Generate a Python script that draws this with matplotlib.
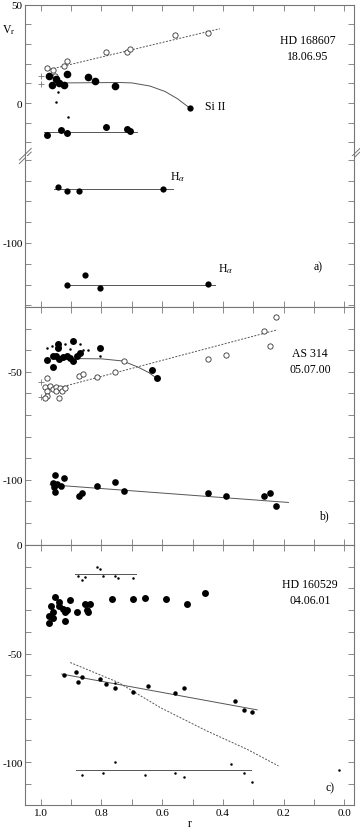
import matplotlib
matplotlib.use("Agg")
import matplotlib.pyplot as plt
from matplotlib.ticker import MultipleLocator, FuncFormatter

plt.rcParams["font.family"] = ["Liberation Serif", "DejaVu Serif"]
plt.rcParams["mathtext.fontset"] = "stix"
plt.rcParams["axes.unicode_minus"] = False

# ---- panel a) HD 168607 ----
a_open_r = [0.980, 0.960, 0.953, 0.922, 0.912, 0.785, 0.716, 0.706, 0.559, 0.449]
a_open_v = [17.7, 16.7, 13.8, 18.8, 21.4, 25.8, 25.8, 27.3, 34.3, 35.7]
a_open_fit_r = [0.98, 0.41]
a_open_fit_v = [16.7, 37.7]
a_cross_r = [1.0, 1.0]
a_cross_v = [13.5, 9.4]
a_si_r = [0.972, 0.962, 0.951, 0.940, 0.922, 0.912, 0.843, 0.823, 0.754]
a_si_v = [13.6, 9.2, 12.1, 10.3, 9.2, 14.6, 13.3, 11.3, 8.7]
a_si_end_r = [0.508]
a_si_end_v = [-2.7]
a_si_fit_r = [0.92, 0.74, 0.70, 0.64, 0.59, 0.55, 0.508]
a_si_fit_v = [10.2, 10.4, 10.2, 8.6, 5.8, 2.2, -2.7]
a_dot_r = [0.942, 0.951, 0.911]
a_dot_v = [5.7, 0.7, -7.2]
a_low_r = [0.980, 0.932, 0.912, 0.785, 0.716, 0.706]
a_low_v = [-16.2, -13.6, -15.2, -12.1, -13.1, -14.1]
a_low_fit_r = [0.99, 0.684]
a_low_fit_v = [-14.8, -14.8]
a_ha1_r = [0.942, 0.912, 0.873, 0.597]
a_ha1_v = [-73.3, -75.2, -75.2, -74.3]
a_ha1_fit_r = [0.958, 0.563]
a_ha1_fit_v = [-74.1, -74.1]
a_ha2_r = [0.912, 0.853, 0.805, 0.450]
a_ha2_v = [-120.2, -115.5, -121.8, -119.8]
a_ha2_fit_r = [0.915, 0.426]
a_ha2_fit_v = [-120.2, -120.2]

# ---- panel b) AS 314 ----
b_big_r = [0.942, 0.942, 0.893, 0.805, 0.978, 0.961, 0.950, 0.939, 0.928, 0.912,
           0.903, 0.893, 0.881, 0.871, 0.961, 0.634, 0.617]
b_big_v = [-37.2, -39.0, -35.9, -39.0, -44.6, -42.6, -42.6, -44.1, -43.1, -42.6,
           -43.7, -44.9, -42.6, -41.5, -48.0, -49.1, -53.1]
b_big_fit_r = [0.88, 0.80, 0.73, 0.68, 0.645, 0.617]
b_big_fit_v = [-43.9, -44.0, -45.0, -47.8, -50.3, -53.1]
b_dot_r = [0.980, 0.964, 0.950, 0.936, 0.919, 0.903, 0.871, 0.860, 0.843, 0.805]
b_dot_v = [-39.2, -38.2, -39.2, -38.6, -37.3, -39.5, -37.2, -40.0, -40.0, -42.6]
b_open_r = [0.980, 0.986, 0.980, 0.978, 0.986, 0.969, 0.961, 0.950, 0.951, 0.936,
            0.931, 0.939, 0.920, 0.873, 0.862, 0.814, 0.755, 0.726, 0.450, 0.390,
            0.264, 0.244, 0.224]
b_open_v = [-52.9, -57.2, -58.8, -61.1, -62.2, -56.5, -58.0, -56.9, -58.8, -57.5,
            -58.8, -62.2, -57.5, -52.0, -51.1, -52.6, -50.3, -44.9, -44.1, -42.1,
            -31.0, -38.0, -24.5]
b_open_fit_r = [0.925, 0.224]
b_open_fit_v = [-56.8, -30.7]
b_cross_r = [1.0, 1.0]
b_cross_v = [-54.9, -61.9]
b_low_r = [0.953, 0.961, 0.947, 0.934, 0.958, 0.953, 0.922, 0.865, 0.873, 0.814,
           0.755, 0.726, 0.450, 0.390, 0.264, 0.244, 0.224]
b_low_v = [-97.7, -101.5, -102.0, -103.1, -103.5, -105.6, -99.4, -106.2, -107.7, -102.8,
           -101.2, -105.4, -106.2, -107.4, -107.4, -106.2, -112.3]
b_low_fit_r = [0.969, 0.184]
b_low_fit_v = [-102.3, -110.5]

# ---- panel c) HD 160529 ----
c_big_r = [0.972, 0.972, 0.961, 0.961, 0.967, 0.952, 0.941, 0.940, 0.926, 0.921,
           0.912, 0.921, 0.903, 0.881, 0.853, 0.838, 0.849, 0.843, 0.765, 0.696,
           0.656, 0.588, 0.519, 0.460]
c_big_v = [-35.9, -32.9, -33.6, -31.0, -28.0, -23.8, -26.1, -28.0, -29.5, -31.0,
           -30.0, -34.9, -25.2, -31.0, -27.0, -27.0, -30.0, -31.0, -25.0, -25.0,
           -24.6, -25.0, -27.0, -22.1]
c_top_r = [0.878, 0.863, 0.853, 0.814, 0.805, 0.794, 0.755, 0.744, 0.696]
c_top_v = [-14.1, -16.0, -14.6, -10.0, -11.1, -14.1, -14.1, -15.2, -15.2]
c_top_fit_r = [0.887, 0.686]
c_top_fit_v = [-13.4, -13.4]
c_mid_r = [0.922, 0.883, 0.878, 0.863, 0.805, 0.785, 0.755, 0.697, 0.647,
           0.559, 0.529, 0.360, 0.331, 0.303]
c_mid_v = [-59.9, -58.4, -63.0, -60.8, -61.9, -63.9, -65.9, -67.9, -64.8,
           -68.3, -65.9, -71.9, -75.9, -76.8]
c_mid_small_r = [0.755]
c_mid_small_v = [-63.4]
c_mid_fit_r = [0.931, 0.287]
c_mid_fit_v = [-59.4, -75.9]
c_dash_r = [0.903, 0.744, 0.607, 0.453, 0.321, 0.217]
c_dash_v = [-54.1, -63.3, -74.8, -85.6, -94.0, -101.7]
c_bot_r = [0.863, 0.795, 0.755, 0.657, 0.559, 0.529, 0.372, 0.331, 0.303, 0.016]
c_bot_v = [-106.0, -104.8, -99.8, -106.0, -104.8, -106.9, -100.9, -104.8, -108.9, -103.7]
c_bot_fit_r = [0.884, 0.309]
c_bot_fit_v = [-103.5, -103.5]

W, H = 360, 829
fig = plt.figure(figsize=(W / 100, H / 100), dpi=100)

LEFT, RIGHT = 25.3, 354
XLIM = (1.051, -0.032)
FRAME = "#777777"
LINE = "#555555"


def make_ax(top_px, bot_px, ylim):
    ax = fig.add_axes([LEFT / W, 1 - bot_px / H, (RIGHT - LEFT) / W, (bot_px - top_px) / H])
    ax.set_xlim(*XLIM)
    ax.set_ylim(*ylim)
    ax.xaxis.set_major_locator(MultipleLocator(0.1))
    ax.yaxis.set_major_locator(MultipleLocator(10))
    ax.yaxis.set_major_formatter(FuncFormatter(lambda v, p: "%d" % v if round(v) % 50 == 0 else ""))
    ax.tick_params(direction="in", length=4, width=0.6, color=FRAME, top=True, right=True,
                   labelsize=8, pad=2, labelbottom=False)
    for s in ax.spines.values():
        s.set_color(FRAME)
        s.set_linewidth(0.8)
    return ax


def big(ax, r, v, ms=5):
    ax.plot(r, v, "o", color="black", ms=ms, mec="black", mew=0, zorder=3)


def opn(ax, r, v):
    ax.plot(r, v, "o", mfc="white", mec="#333333", ms=3.8, mew=0.6, zorder=3)


def dot(ax, r, v, ms=1.8):
    ax.plot(r, v, "o", color="black", ms=ms, mew=0, zorder=3)


def cross(ax, r, v):
    ax.plot(r, v, "+", color="#777777", ms=5, mew=0.6, zorder=2)


def fit(ax, r, v, dashed=False):
    ls = (0, (2, 1.5)) if dashed else "-"
    ax.plot(r, v, color=LINE, lw=0.7, ls=ls, zorder=1)


# panel a, top part
ax1 = make_ax(5.5, 157, (-26.9, 50))
ax1.spines["bottom"].set_visible(False)
ax1.tick_params(bottom=False)
fit(ax1, a_open_fit_r, a_open_fit_v, dashed=True)
opn(ax1, a_open_r, a_open_v)
cross(ax1, a_cross_r, a_cross_v)
fit(ax1, a_si_fit_r, a_si_fit_v)
big(ax1, a_si_r, a_si_v, 5.5)
big(ax1, a_si_end_r, a_si_end_v, 4.5)
dot(ax1, a_dot_r, a_dot_v)
fit(ax1, a_low_fit_r, a_low_fit_v)
big(ax1, a_low_r, a_low_v, 5)
ax1.text(0.46, -1.5, "Si II", fontsize=8.5, va="center", ha="left")
ax1.text(0.12, 27.8, "HD 168607\n18.06.95", fontsize=8.5, ha="center", va="center",
         linespacing=1.45)
ax1.text(-0.05, 37.5, r"V$_{\rm r}$", fontsize=8.5, transform=ax1.get_yaxis_transform(),
         ha="center", va="center")

# break marks
for xa in (0.0, 1.0):
    for dy in (-0.012, 0.012):
        ax1.plot([xa - 0.018, xa + 0.018], [dy - 0.038, dy + 0.038], color=FRAME, lw=0.7,
                 transform=ax1.transAxes, clip_on=False)

# panel a, bottom part
ax2 = make_ax(157, 308, (-130.8, -58.2))
ax2.spines["top"].set_visible(False)
ax2.tick_params(top=False)
fit(ax2, a_ha1_fit_r, a_ha1_fit_v)
big(ax2, a_ha1_r, a_ha1_v, 4.5)
fit(ax2, a_ha2_fit_r, a_ha2_fit_v)
big(ax2, a_ha2_r, a_ha2_v, 4.5)
ax2.text(0.575, -68, r"H$_\alpha$", fontsize=8.5, ha="left", va="center")
ax2.text(0.415, -112.3, r"H$_\alpha$", fontsize=8.5, ha="left", va="center")
ax2.text(0.087, -111, "a)", fontsize=8.5, ha="center", va="center")

# panel b
ax3 = make_ax(308, 546, (-130.2, -20))
fit(ax3, b_open_fit_r, b_open_fit_v, dashed=True)
opn(ax3, b_open_r, b_open_v)
cross(ax3, b_cross_r, b_cross_v)
fit(ax3, b_big_fit_r, b_big_fit_v)
big(ax3, b_big_r, b_big_v, 5)
dot(ax3, b_dot_r, b_dot_v)
fit(ax3, b_low_fit_r, b_low_fit_v)
big(ax3, b_low_r, b_low_v, 4.8)
ax3.text(0.113, -45, "AS 314\n05.07.00", fontsize=8.5, ha="center", va="center",
         linespacing=1.45)
ax3.text(0.069, -116.3, "b)", fontsize=8.5, ha="center", va="center")

# panel c
ax4 = make_ax(546, 806, (-119.7, 0))
ax4.tick_params(labelbottom=True)
ax4.xaxis.set_major_formatter(FuncFormatter(lambda v, p: "%.1f" % abs(v) if round(v * 10) % 2 == 0 else ""))
fit(ax4, c_top_fit_r, c_top_fit_v)
dot(ax4, c_top_r, c_top_v)
big(ax4, c_big_r, c_big_v, 5)
fit(ax4, c_mid_fit_r, c_mid_fit_v)
dot(ax4, c_mid_r, c_mid_v, 3.2)
dot(ax4, c_mid_small_r, c_mid_small_v, 1.8)
fit(ax4, c_dash_r, c_dash_v, dashed=True)
fit(ax4, c_bot_fit_r, c_bot_fit_v)
dot(ax4, c_bot_r, c_bot_v)
ax4.text(0.113, -21.6, "HD 160529\n04.06.01", fontsize=8.5, ha="center", va="center",
         linespacing=1.45)
ax4.text(0.047, -111.7, "c)", fontsize=8.5, ha="center", va="center")
ax4.set_xlabel("r", fontsize=8.5, labelpad=0)

fig.savefig("out.png", dpi=100)
